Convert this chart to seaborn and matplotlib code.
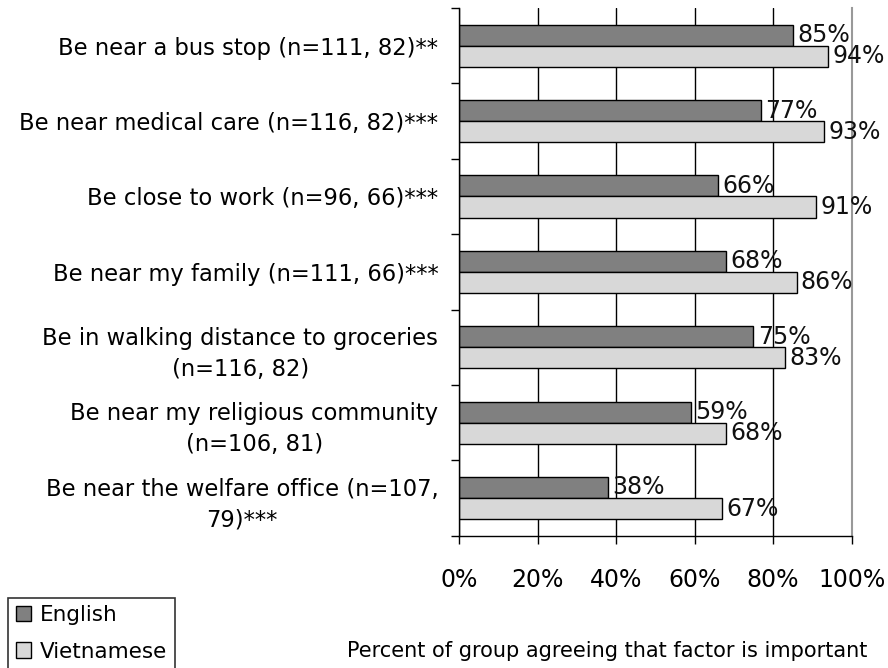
import matplotlib
matplotlib.use("Agg")
import matplotlib.pyplot as plt
import pandas as pd
import seaborn as sns

factors = [
    "Be near a bus stop (n=111, 82)**",
    "Be near medical care (n=116, 82)***",
    "Be close to work (n=96, 66)***",
    "Be near my family (n=111, 66)***",
    "Be in walking distance to groceries\n(n=116, 82)",
    "Be near my religious community\n(n=106, 81)",
    "Be near the welfare office (n=107,\n79)***",
]
english = [85, 77, 66, 68, 75, 59, 38]
vietnamese = [94, 93, 91, 86, 83, 68, 67]
groups = ["English", "Vietnamese"]
colors = ["#808080", "#d8d8d8"]
x_ticks = [0, 20, 40, 60, 80, 100]

df = pd.DataFrame({
    "factor": factors * 2,
    "group": [groups[0]] * len(factors) + [groups[1]] * len(factors),
    "pct": english + vietnamese,
})

sns.set_style("white")
plt.rcParams["font.family"] = ["DejaVu Sans"]
plt.rcParams["text.color"] = "black"
plt.rcParams["xtick.color"] = "black"
plt.rcParams["ytick.color"] = "black"
FS = 16.3

fig = plt.figure(figsize=(8.88, 6.68), dpi=100)
ax = fig.add_axes([0.517, 0.198, 0.442, 0.790])

sns.barplot(data=df, y="factor", x="pct", hue="group", order=factors,
            hue_order=groups, palette=colors, orient="h", width=0.56,
            edgecolor="black", linewidth=1.0, saturation=1, ax=ax)

for cont in ax.containers:
    vals = [int(round(b.get_width())) for b in cont]
    ax.bar_label(cont, labels=[f"{v}%" for v in vals], padding=3,
                 fontsize=17, color="#111111")

ax.set_xlim(0, 100)
ax.set_ylim(len(factors) - 0.5, -0.5)
ax.set_xticks(x_ticks)
ax.set_xticklabels([f"{t}%" for t in x_ticks], fontsize=17)
ax.set_yticks(range(len(factors)))
ax.set_yticklabels(factors, fontsize=FS, multialignment="center", linespacing=1.45)
ax.set_yticks([i - 0.5 for i in range(len(factors) + 1)], minor=True)
ax.tick_params(axis="y", which="major", length=0, pad=15)
ax.tick_params(axis="y", which="minor", length=6, width=1, color="black", direction="out", left=True)
ax.tick_params(axis="x", length=6, width=1, color="black", direction="out", bottom=True, pad=17)
ax.set_xlabel("")
ax.set_ylabel("")
ax.grid(axis="x", color="black", linewidth=1)
ax.set_axisbelow(True)

ax.spines["top"].set_visible(False)
ax.spines["right"].set_color("#999999")
ax.spines["right"].set_linewidth(1.5)
for s in ["left", "bottom"]:
    ax.spines[s].set_color("black")
    ax.spines[s].set_linewidth(1)

handles, labels = ax.get_legend_handles_labels()
ax.legend_.remove()
leg = fig.legend(handles, labels, loc="upper left", bbox_to_anchor=(0.009, 0.105),
                 fontsize=15.5, frameon=True, fancybox=False, edgecolor="black",
                 handlelength=0.7, handleheight=0.7, handletextpad=0.45,
                 borderpad=0.35, labelspacing=0.75, borderaxespad=0)
leg.get_frame().set_linewidth(1.2)

fig.text(0.684, 0.025, "Percent of group agreeing that factor is important",
         fontsize=15, ha="center", va="center")

fig.savefig("out.png", dpi=100)
